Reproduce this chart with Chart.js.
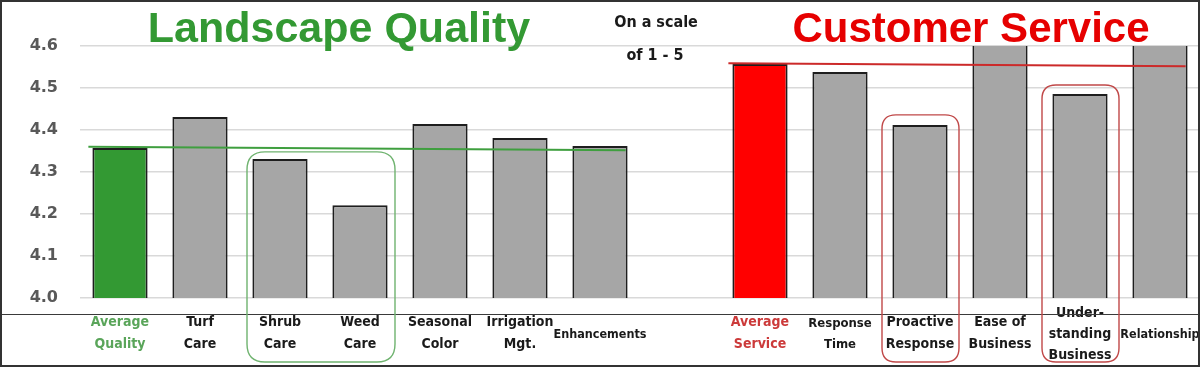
<!DOCTYPE html>
<html><head><meta charset="utf-8">
<script src="https://cdn.jsdelivr.net/npm/chart.js@4.4.0/dist/chart.umd.min.js"></script>
<style>html,body{margin:0;padding:0;background:#fff;}#wrap{width:1200px;height:367px;}</style>
</head><body><div id="wrap"><canvas id="c" width="1200" height="367"></canvas></div>
<script>
// ---- data ----
const categories = [
  ["Average","Quality"], ["Turf","Care"], ["Shrub","Care"], ["Weed","Care"],
  ["Seasonal","Color"], ["Irrigation","Mgt."], "Enhancements", "",
  ["Average","Service"], ["Response","Time"], ["Proactive","Response"],
  ["Ease of","Business"], ["Under-","standing","Business"], "Relationship"
];
const scores = [4.357, 4.431, 4.331, 4.221, 4.414, 4.381, 4.362, null,
                4.557, 4.538, 4.412, 4.70, 4.486, 4.70];
const yTicks = [4.0, 4.1, 4.2, 4.3, 4.4, 4.5, 4.6];
const qualityRange = [0, 6];          // category indices spanned by quality average line
const serviceRange = [8, 13];         // category indices spanned by service average line
const qualityAverageLine = [4.360, 4.352];  // value at start, value at end
const serviceAverageLine = [4.559, 4.552];
const highlightGroups = [[2, 3, 4.348], [10, 10, 4.436], [12, 12, 4.507]]; // from, to, top value
const titles = ["Landscape Quality", "Customer Service"];
const scaleNote = ["On a scale", "of 1 - 5"];

// ---- styles ----
const GREEN = '#339933', RED = '#ff0000', GRAY = '#a6a6a6';
const barColors = scores.map((v, i) => i === 0 ? GREEN : (i === 8 ? RED : GRAY));
const labelFont = "'DejaVu Sans Condensed', 'DejaVu Sans', sans-serif";
const labelSize = i => (i === 6 || i === 13) ? 12.5 : (i === 9 ? 13 : 14);

function roundRect(ctx, x, y, w, h, r) {
  ctx.beginPath();
  ctx.moveTo(x + r, y);
  ctx.lineTo(x + w - r, y);
  ctx.quadraticCurveTo(x + w, y, x + w, y + r);
  ctx.lineTo(x + w, y + h - r);
  ctx.quadraticCurveTo(x + w, y + h, x + w - r, y + h);
  ctx.lineTo(x + r, y + h);
  ctx.quadraticCurveTo(x, y + h, x, y + h - r);
  ctx.lineTo(x, y + r);
  ctx.quadraticCurveTo(x, y, x + r, y);
  ctx.closePath();
}

const decor = {
  id: 'decor',
  afterDatasetsDraw(chart) {
    const ctx = chart.ctx, xs = chart.scales.x, ys = chart.scales.y;
    const W = chart.width, H = chart.height;
    const catW = xs.getPixelForValue(1) - xs.getPixelForValue(0);
    const meta = chart.getDatasetMeta(0);
    ctx.save();
    // axis separator line
    ctx.strokeStyle = '#3a3a3a'; ctx.lineWidth = 1.2;
    ctx.beginPath(); ctx.moveTo(0, 314.5); ctx.lineTo(W, 314.5); ctx.stroke();
    // average lines
    function avgLine(range, vals, color) {
      const b0 = meta.data[range[0]], b1 = meta.data[range[1]];
      const x0 = b0.x - b0.width / 2 - 4, x1 = b1.x + b1.width / 2 - 2;
      ctx.strokeStyle = color; ctx.lineWidth = 2;
      ctx.beginPath();
      ctx.moveTo(x0, ys.getPixelForValue(vals[0]));
      ctx.lineTo(x1, ys.getPixelForValue(vals[1]));
      ctx.stroke();
    }
    avgLine(qualityRange, qualityAverageLine, '#3f9f3f');
    avgLine(serviceRange, serviceAverageLine, '#cc2a2a');
    // highlight boxes
    highlightGroups.forEach(g => {
      const isQ = g[0] < 7;
      const x0 = xs.getPixelForValue(g[0]) - catW / 2 + (isQ ? 7 : 2);
      const x1 = xs.getPixelForValue(g[1]) + catW / 2 - (isQ ? 5 : 1);
      const y0 = ys.getPixelForValue(g[2]);
      const y1 = H - 5;
      ctx.strokeStyle = isQ ? '#6fb36f' : '#c04848';
      ctx.lineWidth = 1.4;
      roundRect(ctx, x0, y0, x1 - x0, y1 - y0, isQ ? 18 : 14);
      ctx.stroke();
    });
    // titles
    ctx.textAlign = 'center'; ctx.textBaseline = 'alphabetic';
    ctx.font = "bold 43px 'Liberation Sans', Arial, sans-serif";
    ctx.fillStyle = '#339933';
    ctx.fillText(titles[0], 339, 42);
    ctx.font = "bold 42px 'Liberation Sans', Arial, sans-serif";
    ctx.fillStyle = '#e60000';
    ctx.fillText(titles[1], 971, 42);
    ctx.fillStyle = '#1a1a1a';
    ctx.textBaseline = 'middle';
    ctx.font = "bold 16px " + labelFont;
    ctx.fillText(scaleNote[0], 656, 23);
    ctx.fillText(scaleNote[1], 655, 56);
    // frame
    ctx.strokeStyle = '#333'; ctx.lineWidth = 2;
    ctx.strokeRect(1, 1, W - 2, H - 2);
    ctx.restore();
  }
};

new Chart(document.getElementById('c'), {
  type: 'bar',
  data: {
    labels: categories,
    datasets: [{
      data: scores,
      backgroundColor: barColors,
      borderColor: '#1e1e1e',
      borderWidth: 2,
      borderSkipped: false,
      categoryPercentage: 1,
      barPercentage: 0.69,
      clip: 0
    }]
  },
  options: {
    responsive: false,
    animation: false,
    devicePixelRatio: 1,
    layout: { padding: { top: 46, right: 0, left: 0, bottom: 0 } },
    plugins: { legend: { display: false }, tooltip: { enabled: false }, title: { display: false } },
    scales: {
      x: {
        grid: { display: false, drawTicks: false },
        border: { display: false },
        afterFit(s) { s.height = 69; s.paddingLeft = 0; s.paddingRight = 0; },
        ticks: {
          autoSkip: false, maxRotation: 0, minRotation: 0, padding: 15,
          crossAlign: 'center',
          color: c => c.index === 0 ? '#5aa55a' : (c.index === 8 ? '#cc3a3a' : '#1a1a1a'),
          font: c => ({ family: labelFont, weight: 'bold',
                        size: labelSize(c.index), lineHeight: c.index === 12 ? 1.5 : 1.6 })
        }
      },
      y: {
        min: 4.0, max: 4.6,
        afterFit(s) { s.width = 80; },
        afterBuildTicks(s) { s.ticks = yTicks.map(v => ({ value: v })); },
        grid: { color: '#d9d9d9', lineWidth: 1.5, drawTicks: false },
        border: { display: false },
        ticks: {
          padding: 22, color: '#595959',
          font: { family: "'DejaVu Sans', sans-serif", weight: 'bold', size: 16 },
          callback: v => Number(v).toFixed(1)
        }
      }
    }
  },
  plugins: [decor]
});
</script>
</body></html>
